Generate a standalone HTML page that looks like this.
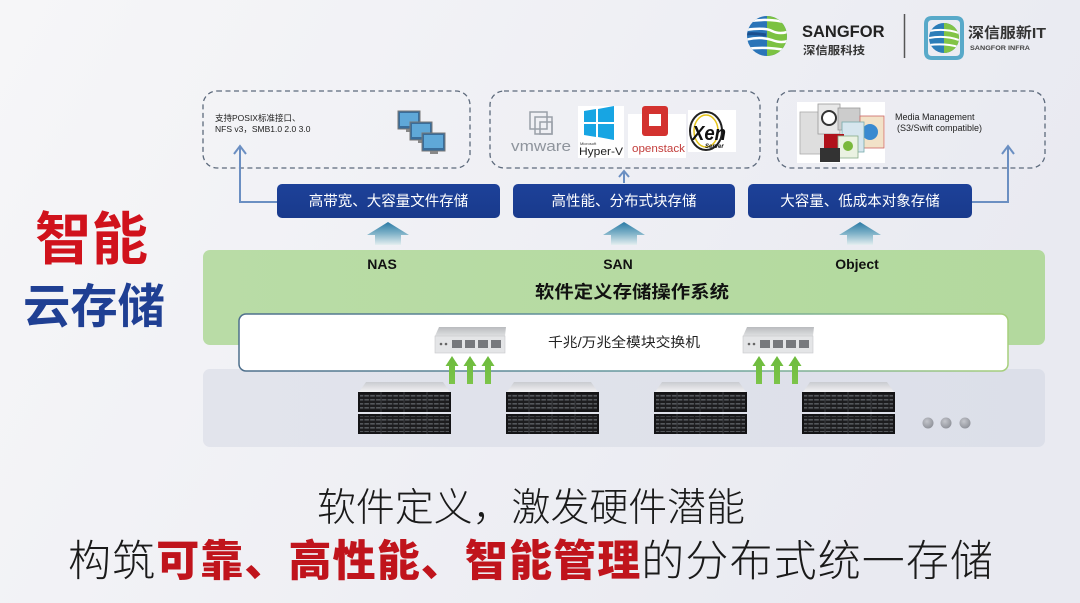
<!DOCTYPE html>
<html><head><meta charset="utf-8">
<style>
html,body{margin:0;padding:0;width:1080px;height:603px;overflow:hidden;background:#f1f1f4;}
svg{display:block;}
text{font-family:"Liberation Sans","Noto Sans CJK SC",sans-serif;}
</style></head>
<body>
<svg width="1080" height="603" viewBox="0 0 1080 603" xmlns="http://www.w3.org/2000/svg">
<defs>
  <linearGradient id="bg" x1="0" y1="0" x2="1" y2="0.3">
    <stop offset="0" stop-color="#f6f6f8"/>
    <stop offset="1" stop-color="#e9eaf1"/>
  </linearGradient>
  <linearGradient id="btn" x1="0" y1="0" x2="0" y2="1">
    <stop offset="0" stop-color="#1d4199"/>
    <stop offset="1" stop-color="#193a8c"/>
  </linearGradient>
  <linearGradient id="barrow" x1="0" y1="0" x2="0" y2="1">
    <stop offset="0" stop-color="#2a7aa5"/>
    <stop offset="0.5" stop-color="#7fb2c8"/>
    <stop offset="1" stop-color="#e4eef0"/>
  </linearGradient>
  <linearGradient id="green" x1="0" y1="0" x2="1" y2="0">
    <stop offset="0" stop-color="#b9dca6"/>
    <stop offset="1" stop-color="#b3d99e"/>
  </linearGradient>
  <linearGradient id="gray" x1="0" y1="0" x2="1" y2="0">
    <stop offset="0" stop-color="#e2e4ec"/>
    <stop offset="1" stop-color="#dcdfe9"/>
  </linearGradient>
  <linearGradient id="wborder" x1="0" y1="0" x2="1" y2="0">
    <stop offset="0" stop-color="#4e6f8c"/>
    <stop offset="0.6" stop-color="#6aa0a0"/>
    <stop offset="1" stop-color="#a6cf7c"/>
  </linearGradient>
  <linearGradient id="cap" x1="0" y1="0" x2="0" y2="1">
    <stop offset="0" stop-color="#c9cbd0"/>
    <stop offset="1" stop-color="#f2f2f4"/>
  </linearGradient>
  <linearGradient id="swtop" x1="0" y1="0" x2="0" y2="1">
    <stop offset="0" stop-color="#b9bbbe"/>
    <stop offset="1" stop-color="#dfe0e2"/>
  </linearGradient>
  <linearGradient id="garr" x1="0" y1="0" x2="0" y2="1">
    <stop offset="0" stop-color="#6dbb3c"/>
    <stop offset="1" stop-color="#7cc44a"/>
  </linearGradient>
  <pattern id="drv" x="0" y="0" width="5.8" height="4" patternUnits="userSpaceOnUse">
    <rect width="5.8" height="4" fill="#1c1c1e"/>
    <rect x="0.6" y="1" width="4.6" height="1.6" fill="#55585c"/>
  </pattern>
  <radialGradient id="dot" cx="0.4" cy="0.35" r="0.7">
    <stop offset="0" stop-color="#c4c6cc"/>
    <stop offset="1" stop-color="#8c8f97"/>
  </radialGradient>
  <clipPath id="globe"><circle cx="767" cy="36" r="20"/></clipPath>
  <clipPath id="globe2"><circle cx="944" cy="38" r="15"/></clipPath>
  <g id="server">
    <path d="M8 0 H85 L92 10 H1 Z" fill="url(#cap)"/>
    <rect x="0" y="10" width="93" height="20" fill="#141416"/>
    <rect x="2" y="12" width="89" height="16" fill="url(#drv)"/>
    <rect x="0" y="32" width="93" height="20" fill="#141416"/>
    <rect x="2" y="34" width="89" height="16" fill="url(#drv)"/>
    <line x1="23" y1="10" x2="23" y2="30" stroke="#3a3c40" stroke-width="1"/>
    <line x1="46" y1="10" x2="46" y2="30" stroke="#3a3c40" stroke-width="1"/>
    <line x1="69" y1="10" x2="69" y2="30" stroke="#3a3c40" stroke-width="1"/>
    <line x1="23" y1="32" x2="23" y2="52" stroke="#3a3c40" stroke-width="1"/>
    <line x1="46" y1="32" x2="46" y2="52" stroke="#3a3c40" stroke-width="1"/>
    <line x1="69" y1="32" x2="69" y2="52" stroke="#3a3c40" stroke-width="1"/>
  </g>
  <g id="switch">
    <path d="M4 0 H71 L70 9 H0 Z" fill="url(#swtop)"/>
    <rect x="0" y="9" width="70" height="17" fill="#e4e5e7"/>
    <rect x="0" y="9" width="70" height="17" fill="none" stroke="#c7c8cb" stroke-width="0.6"/>
    <circle cx="6" cy="17" r="1.3" fill="#666"/>
    <circle cx="11" cy="17" r="1.3" fill="#666"/>
    <rect x="17" y="13" width="10" height="8" fill="#77797d"/>
    <rect x="30" y="13" width="10" height="8" fill="#77797d"/>
    <rect x="43" y="13" width="10" height="8" fill="#77797d"/>
    <rect x="56" y="13" width="10" height="8" fill="#77797d"/>
  </g>
  <g id="garrow">
    <path d="M-3 28 V10 H-6.5 L0 0 L6.5 10 H3 V28 Z" fill="url(#garr)"/>
  </g>
  <g id="barr">
    <path d="M-13 23 V13 H-21 L0 0 L21 13 H13 V23 Z" fill="url(#barrow)"/>
  </g>
</defs>

<rect width="1080" height="603" fill="url(#bg)"/>

<!-- Logos -->
<g clip-path="url(#globe)">
  <rect x="745" y="14" width="45" height="45" fill="#2a74b8"/>
  <path d="M767 14 H790 V59 H767 Z" fill="#7cc242"/>
  <path d="M745 22 Q770 17 790 24" stroke="#fff" stroke-width="2.5" fill="none"/>
  <path d="M745 30 Q765 27 772 31 Q780 35 790 31" stroke="#fff" stroke-width="2.5" fill="none"/>
  <path d="M745 40 Q760 36 772 40 Q782 44 790 40" stroke="#fff" stroke-width="2.5" fill="none"/>
  <path d="M745 49 Q768 46 790 51" stroke="#fff" stroke-width="2.5" fill="none"/>
  <path d="M745 34 Q755 33 766 35" stroke="#1b4f8e" stroke-width="3" fill="none"/>
</g>
<text x="802" y="37" font-size="16.5" font-weight="bold" fill="#222">SANGFOR</text>
<text x="803" y="54" font-size="11" font-weight="bold" fill="#333" textLength="62" lengthAdjust="spacingAndGlyphs">深信服科技</text>
<line x1="904.5" y1="14" x2="904.5" y2="58" stroke="#555" stroke-width="1.5"/>
<path d="M926 24 Q926 18 932 18 H956 Q962 18 962 24 V52 Q962 58 956 58 H932 Q926 58 926 52 Z" fill="none" stroke="#58a9c9" stroke-width="4"/>
<g clip-path="url(#globe2)">
  <rect x="929" y="23" width="30" height="30" fill="#2c7db8"/>
  <rect x="944" y="23" width="15" height="30" fill="#82c446"/>
  <path d="M929 31 Q945 28 959 33" stroke="#fff" stroke-width="2" fill="none"/>
  <path d="M929 38 Q945 35 959 40" stroke="#fff" stroke-width="2" fill="none"/>
  <path d="M929 45 Q945 43 959 47" stroke="#fff" stroke-width="2" fill="none"/>
</g>
<text x="968" y="38" font-size="14.5" font-weight="bold" fill="#333" textLength="78" lengthAdjust="spacingAndGlyphs">深信服新IT</text>
<text x="970" y="50" font-size="6.5" font-weight="bold" fill="#444" textLength="60" lengthAdjust="spacingAndGlyphs">SANGFOR INFRA</text>

<!-- Left title -->
<text x="35" y="259" font-size="57" font-weight="bold" fill="#d0121c" textLength="113" lengthAdjust="spacingAndGlyphs">智能</text>
<text x="23" y="323" font-size="47" font-weight="bold" fill="#1f3f93" textLength="142" lengthAdjust="spacingAndGlyphs">云存储</text>

<!-- Dashed boxes -->
<rect x="203" y="91" width="267" height="77" rx="14" fill="none" stroke="#5d6a7c" stroke-width="1.3" stroke-dasharray="5 3.5"/>
<rect x="490" y="91" width="270" height="77" rx="14" fill="none" stroke="#5d6a7c" stroke-width="1.3" stroke-dasharray="5 3.5"/>
<rect x="777" y="91" width="268" height="77" rx="14" fill="none" stroke="#5d6a7c" stroke-width="1.3" stroke-dasharray="5 3.5"/>

<!-- Box1 content -->
<text x="215" y="121" font-size="8.5" fill="#222">支持POSIX标准接口、</text>
<text x="215" y="132" font-size="8.5" fill="#222">NFS v3，SMB1.0 2.0 3.0</text>
<g>
  <rect x="398" y="111" width="22" height="18" fill="#3a6d9a" stroke="#777" stroke-width="1"/>
  <rect x="400" y="113" width="18" height="13" fill="#5fa8d8"/>
  <rect x="406" y="129" width="6" height="3" fill="#888"/>
  <rect x="410" y="122" width="22" height="18" fill="#3a6d9a" stroke="#777" stroke-width="1"/>
  <rect x="412" y="124" width="18" height="13" fill="#5fa8d8"/>
  <rect x="418" y="140" width="6" height="3" fill="#888"/>
  <rect x="422" y="133" width="23" height="18" fill="#3a6d9a" stroke="#777" stroke-width="1"/>
  <rect x="424" y="135" width="19" height="13" fill="#5fa8d8"/>
  <rect x="430" y="151" width="8" height="3" fill="#888"/>
</g>

<!-- Box2 content -->
<g>
  <rect x="530" y="112" width="17" height="17" fill="none" stroke="#9aa0a8" stroke-width="1.5"/>
  <rect x="535" y="117" width="17" height="17" fill="none" stroke="#9aa0a8" stroke-width="1.5"/>
  <rect x="540" y="122" width="12" height="12" fill="none" stroke="#9aa0a8" stroke-width="1.5"/>
  <text x="511" y="151" font-size="15" fill="#8e949c" textLength="60" lengthAdjust="spacingAndGlyphs">vmware</text>
  <rect x="578" y="106" width="46" height="52" fill="#fff"/>
  <path d="M584 111 L596 109 V122 H584 Z M598 109 L614 106 V122 H598 Z M584 124 H596 V137 L584 135 Z M598 124 H614 V140 L598 137 Z" fill="#17a5e3"/>
  <text x="580" y="145" font-size="4" fill="#333">Microsoft</text>
  <text x="579" y="155" font-size="11" fill="#222" textLength="44" lengthAdjust="spacingAndGlyphs">Hyper-V</text>
  <rect x="628" y="114" width="58" height="44" fill="#fff"/>
  <rect x="642" y="106" width="26" height="30" rx="3" fill="#d3322f"/>
  <rect x="649" y="114" width="12" height="12" fill="#fff"/>
  <text x="632" y="152" font-size="11" fill="#c33e3c" textLength="53" lengthAdjust="spacingAndGlyphs">openstack</text>
  <rect x="688" y="110" width="48" height="42" fill="#fff"/>
  <ellipse cx="706" cy="131" rx="16" ry="19" fill="none" stroke="#222" stroke-width="2"/>
  <ellipse cx="706" cy="131" rx="12" ry="16" fill="none" stroke="#e6c419" stroke-width="1.5"/>
  <text x="692" y="140" font-size="20" font-weight="bold" font-style="italic" fill="#111" textLength="34" lengthAdjust="spacingAndGlyphs">Xen</text>
  <text x="705" y="148" font-size="6" font-weight="bold" font-style="italic" fill="#111">Server</text>
</g>

<!-- Box3 content -->
<g>
  <rect x="797" y="102" width="88" height="61" fill="#fff"/>
  <rect x="800" y="112" width="26" height="42" fill="#dedede" stroke="#aaa" stroke-width="0.8"/>
  <rect x="818" y="104" width="22" height="30" fill="#e8e8e8" stroke="#999" stroke-width="0.8"/>
  <circle cx="829" cy="118" r="7" fill="#fff" stroke="#333" stroke-width="2"/>
  <rect x="838" y="108" width="22" height="22" fill="#ccc" stroke="#999" stroke-width="0.8"/>
  <rect x="860" y="116" width="24" height="32" fill="#f2e2c8" stroke="#c66" stroke-width="0.8"/>
  <circle cx="870" cy="132" r="8" fill="#3a8ad0"/>
  <rect x="842" y="122" width="22" height="30" fill="#d6e6ee" stroke="#7aa" stroke-width="0.8"/>
  <rect x="824" y="134" width="20" height="20" fill="#b0131c"/>
  <rect x="838" y="136" width="20" height="22" fill="#eaf2e2" stroke="#8a8" stroke-width="0.8"/>
  <circle cx="848" cy="146" r="5" fill="#7ab83c"/>
  <rect x="820" y="148" width="20" height="14" fill="#333"/>
  <text x="895" y="120" font-size="9" fill="#222">Media Management</text>
  <text x="897" y="131" font-size="9" fill="#222">(S3/Swift compatible)</text>
</g>

<!-- Connectors -->
<polyline points="277,202 240,202 240,147" fill="none" stroke="#6b8fc2" stroke-width="2"/>
<path d="M234 154 L240 146 L246 154" fill="none" stroke="#6b8fc2" stroke-width="2"/>
<line x1="624" y1="183" x2="624" y2="172" stroke="#6b8fc2" stroke-width="2"/>
<path d="M619 177 L624 171 L629 177" fill="none" stroke="#6b8fc2" stroke-width="2"/>
<polyline points="972,202 1008,202 1008,147" fill="none" stroke="#6b8fc2" stroke-width="2"/>
<path d="M1002 154 L1008 146 L1014 154" fill="none" stroke="#6b8fc2" stroke-width="2"/>

<!-- Blue buttons -->
<rect x="277" y="184" width="223" height="34" rx="5" fill="url(#btn)"/>
<rect x="513" y="184" width="222" height="34" rx="5" fill="url(#btn)"/>
<rect x="748" y="184" width="224" height="34" rx="5" fill="url(#btn)"/>
<text x="388.5" y="206" font-size="14.5" fill="#fff" text-anchor="middle">高带宽、大容量文件存储</text>
<text x="624" y="206" font-size="14.5" fill="#fff" text-anchor="middle">高性能、分布式块存储</text>
<text x="860" y="206" font-size="14.5" fill="#fff" text-anchor="middle">大容量、低成本对象存储</text>

<!-- Block arrows -->
<use href="#barr" x="388" y="222"/>
<use href="#barr" x="624" y="222"/>
<use href="#barr" x="860" y="222"/>

<!-- Gray server band -->
<rect x="203" y="369" width="842" height="78" rx="7" fill="url(#gray)"/>

<!-- Green band -->
<rect x="203" y="250" width="842" height="95" rx="7" fill="url(#green)"/>
<text x="382" y="269" font-size="14" font-weight="bold" fill="#111" text-anchor="middle">NAS</text>
<text x="618" y="269" font-size="14" font-weight="bold" fill="#111" text-anchor="middle">SAN</text>
<text x="857" y="269" font-size="14" font-weight="bold" fill="#111" text-anchor="middle">Object</text>
<text x="632" y="298" font-size="17.5" font-weight="bold" fill="#111" text-anchor="middle" textLength="194" lengthAdjust="spacingAndGlyphs">软件定义存储操作系统</text>

<!-- White switch box -->
<rect x="239" y="314" width="769" height="57" rx="7" fill="#fff" stroke="url(#wborder)" stroke-width="1.5"/>
<text x="624" y="347" font-size="13.5" fill="#222" text-anchor="middle" textLength="152" lengthAdjust="spacingAndGlyphs">千兆/万兆全模块交换机</text>
<use href="#switch" x="435" y="327"/>
<use href="#switch" x="743" y="327"/>
<use href="#garrow" x="452" y="356"/>
<use href="#garrow" x="470" y="356"/>
<use href="#garrow" x="488" y="356"/>
<use href="#garrow" x="759" y="356"/>
<use href="#garrow" x="777" y="356"/>
<use href="#garrow" x="795" y="356"/>

<!-- Servers -->
<use href="#server" x="358" y="382"/>
<use href="#server" x="506" y="382"/>
<use href="#server" x="654" y="382"/>
<use href="#server" x="802" y="382"/>
<circle cx="928" cy="423" r="5.5" fill="url(#dot)"/>
<circle cx="946" cy="423" r="5.5" fill="url(#dot)"/>
<circle cx="965" cy="423" r="5.5" fill="url(#dot)"/>

<!-- Bottom text -->
<text x="317" y="521" font-size="39" font-weight="300" fill="#1a1a1a" textLength="428" lengthAdjust="spacingAndGlyphs">软件定义，激发硬件潜能</text>
<text x="68" y="576" font-size="43" font-weight="300" fill="#1a1a1a" textLength="925" lengthAdjust="spacing">构筑<tspan font-weight="900" fill="#c0141c">可靠、高性能、智能管理</tspan>的分布式统一存储</text>
</svg>
</body></html>
